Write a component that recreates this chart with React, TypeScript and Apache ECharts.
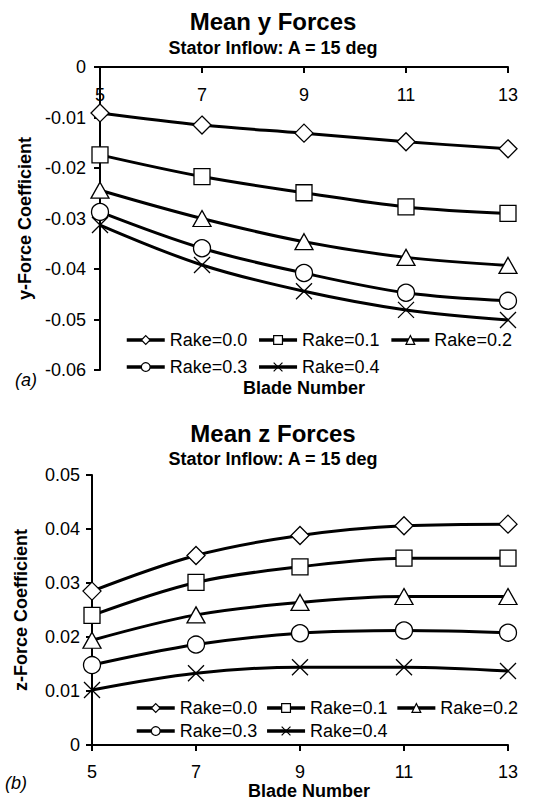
import React, { useEffect, useRef } from "react";
import * as echarts from "echarts";

const bladeNumbers = ["5", "7", "9", "11", "13"];
const rakeNames = ["Rake=0.0", "Rake=0.1", "Rake=0.2", "Rake=0.3", "Rake=0.4"];

// Mean y forces (chart a)
const yRake00 = [-0.0091, -0.0115, -0.0131, -0.0148, -0.0162];
const yRake01 = [-0.0174, -0.0217, -0.0249, -0.0277, -0.029];
const yRake02 = [-0.0244, -0.03, -0.0346, -0.0377, -0.0393];
const yRake03 = [-0.0287, -0.0359, -0.0408, -0.0447, -0.0463];
const yRake04 = [-0.0313, -0.0392, -0.0444, -0.0481, -0.0501];

// Mean z forces (chart b)
const zRake00 = [0.0285, 0.0351, 0.0388, 0.0406, 0.0409];
const zRake01 = [0.024, 0.0301, 0.033, 0.0346, 0.0346];
const zRake02 = [0.0194, 0.0241, 0.0264, 0.0275, 0.0275];
const zRake03 = [0.0148, 0.0186, 0.0207, 0.0212, 0.0208];
const zRake04 = [0.0102, 0.0133, 0.0144, 0.0144, 0.0137];

const FONT = "'Liberation Sans', Arial, sans-serif";
const symbols = ["diamond", "rect", "triangle", "circle", "path://M0,0L20,20M20,0L0,20"];
const symbolSizes = [18, 16, [18, 16], 17, 16];

export default function App() {
  const ref = useRef<HTMLDivElement>(null);
  useEffect(() => {
    if (!ref.current) return;
    const chart = echarts.init(ref.current, null, { renderer: "svg" });
    const ySets = [yRake00, yRake01, yRake02, yRake03, yRake04];
    const zSets = [zRake00, zRake01, zRake02, zRake03, zRake04];
    const mkSeries = (sets: number[][], idx: number) =>
      sets.map((d, i) => ({
        type: "line",
        name: rakeNames[i],
        xAxisIndex: idx,
        yAxisIndex: idx,
        data: d,
        smooth: 0.35,
        symbol: symbols[i],
        symbolSize: symbolSizes[i],
        showAllSymbol: true,
        lineStyle: { color: "#000", width: 3 },
        itemStyle: { color: "#fff", borderColor: "#000", borderWidth: 1.3 },
        z: 2,
      }));
    const legendBase = {
      orient: "horizontal",
      itemWidth: 38,
      itemHeight: 11,
      itemGap: 10,
      textStyle: { fontFamily: FONT, fontSize: 18, color: "#000" },
      lineStyle: { width: 3.5, color: "#000" },
      itemStyle: { borderWidth: 1.2, borderColor: "#000", color: "#fff" },
      inactiveColor: "#000",
      selectedMode: false,
    };
    const axisText = { fontFamily: FONT, fontSize: 18, color: "#000" };
    const fmt = (v: number) => (v === 0 ? "0" : v.toFixed(2));
    chart.setOption({
      animation: false,
      backgroundColor: "#fff",
      title: [
        {
          text: "Mean y Forces",
          subtext: "Stator Inflow: A = 15 deg",
          left: 268,
          textAlign: "center",
          top: 4,
          itemGap: 6,
          textStyle: { fontFamily: FONT, fontSize: 24, fontWeight: "bold", color: "#000" },
          subtextStyle: { fontFamily: FONT, fontSize: 18, fontWeight: "bold", color: "#000" },
        },
        {
          text: "Mean z Forces",
          subtext: "Stator Inflow: A = 15 deg",
          left: 268,
          textAlign: "center",
          top: 416,
          itemGap: 5,
          textStyle: { fontFamily: FONT, fontSize: 24, fontWeight: "bold", color: "#000" },
          subtextStyle: { fontFamily: FONT, fontSize: 18, fontWeight: "bold", color: "#000" },
        },
      ],
      grid: [
        { left: 100, top: 67, width: 408, height: 303 },
        { left: 92, top: 475, width: 416, height: 270 },
      ],
      xAxis: [
        {
          type: "category",
          gridIndex: 0,
          data: bladeNumbers,
          boundaryGap: false,
          position: "top",
          axisLine: { lineStyle: { color: "#000", width: 2 } },
          axisTick: { inside: true, length: 6, lineStyle: { color: "#000", width: 2 } },
          axisLabel: { inside: true, margin: 19, ...axisText },
          splitLine: { show: false },
        },
        {
          type: "category",
          gridIndex: 1,
          data: bladeNumbers,
          boundaryGap: false,
          position: "bottom",
          axisLine: { lineStyle: { color: "#000", width: 2 } },
          axisTick: { length: 6, lineStyle: { color: "#000", width: 2 } },
          axisLabel: { margin: 18, ...axisText },
          splitLine: { show: false },
        },
      ],
      yAxis: [
        {
          type: "value",
          gridIndex: 0,
          min: -0.06,
          max: 0,
          interval: 0.01,
          name: "y-Force Coefficient",
          nameLocation: "middle",
          nameGap: 66,
          nameTextStyle: { fontFamily: FONT, fontSize: 18, fontWeight: "bold", color: "#000" },
          axisLine: { show: true, lineStyle: { color: "#000", width: 2 } },
          axisTick: { show: true, length: 6, lineStyle: { color: "#000", width: 2 } },
          axisLabel: { margin: 14, formatter: fmt, ...axisText },
          splitLine: { show: false },
        },
        {
          type: "value",
          gridIndex: 1,
          min: 0,
          max: 0.05,
          interval: 0.01,
          name: "z-Force Coefficient",
          nameLocation: "middle",
          nameGap: 62,
          nameTextStyle: { fontFamily: FONT, fontSize: 18, fontWeight: "bold", color: "#000" },
          axisLine: { show: true, lineStyle: { color: "#000", width: 2 } },
          axisTick: { show: true, length: 6, lineStyle: { color: "#000", width: 2 } },
          axisLabel: { margin: 12, formatter: fmt, ...axisText },
          splitLine: { show: false },
        },
      ],
      legend: [
        { ...legendBase, left: 120, top: 326, data: rakeNames.slice(0, 3) },
        { ...legendBase, left: 120, top: 353, data: rakeNames.slice(3) },
        { ...legendBase, left: 130, top: 694, itemGap: 8, data: rakeNames.slice(0, 3) },
        { ...legendBase, left: 130, top: 717, itemGap: 8, data: rakeNames.slice(3) },
      ],
      graphic: [
        {
          type: "text",
          x: 304,
          y: 388,
          style: { text: "Blade Number", font: `bold 18px ${FONT}`, fill: "#000", align: "center", verticalAlign: "middle" },
        },
        {
          type: "text",
          x: 309,
          y: 791,
          style: { text: "Blade Number", font: `bold 18px ${FONT}`, fill: "#000", align: "center", verticalAlign: "middle" },
        },
        {
          type: "text",
          x: 15,
          y: 380,
          style: { text: "(a)", font: `italic 18px ${FONT}`, fill: "#000", align: "left", verticalAlign: "middle" },
        },
        {
          type: "text",
          x: 5,
          y: 783,
          style: { text: "(b)", font: `italic 18px ${FONT}`, fill: "#000", align: "left", verticalAlign: "middle" },
        },
      ],
      series: [...mkSeries(ySets, 0), ...mkSeries(zSets, 1)],
    });
    return () => chart.dispose();
  }, []);
  return (
    <div
      ref={ref}
      style={{ position: "fixed", left: 0, top: 0, width: 534, height: 802, background: "#fff" }}
    />
  );
}
